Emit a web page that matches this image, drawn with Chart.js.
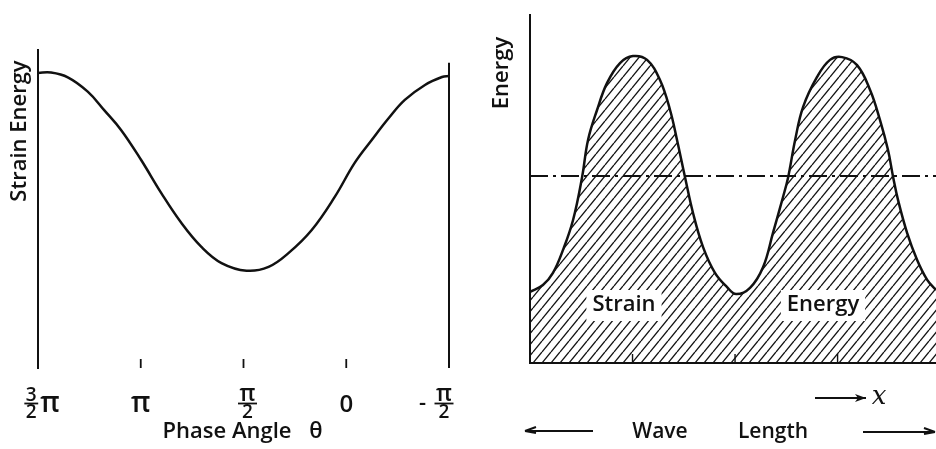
<!DOCTYPE html>
<html>
<head>
<meta charset="utf-8">
<script src="https://cdn.jsdelivr.net/npm/chart.js@4.4.1/dist/chart.umd.min.js"></script>
<style>
  html, body { margin: 0; padding: 0; background: #fff; }
  #wrap { position: relative; width: 936px; height: 449px; overflow: hidden; }
  .panel { position: absolute; top: 0; height: 449px; }
  #left { left: 0; width: 470px; }
  #right { left: 470px; width: 466px; }
</style>
</head>
<body>
<div id="wrap">
  <div class="panel" id="left"><canvas id="phaseChart"></canvas></div>
  <div class="panel" id="right"><canvas id="waveChart"></canvas></div>
</div>
<script>
// left panel: strain energy vs phase angle (theta in units of pi)
const phaseAngle = [1.5, 1.437, 1.355, 1.258, 1.178, 1.095, 0.998, 0.9, 0.802, 0.705, 0.607, 0.485,
  0.378, 0.28, 0.168, 0.056, -0.041, -0.124, -0.207, -0.285, -0.383, -0.466, -0.5];
const strainEnergy = [92.8, 92.9, 91.4, 86.9, 81.1, 74.8, 65.4, 55.0, 45.6, 38.1, 33.0, 30.6,
  31.8, 36.2, 43.4, 53.8, 64.5, 71.7, 78.6, 84.3, 89.0, 91.5, 91.8];
const phaseTicks = [1.5, 1, 0.5, 0, -0.5];
const phaseTickLabels = ["3/2π", "π", "π/2", "0", "-π/2"];
const rightEdgeTop = 96;

// right panel: energy along the wave (x in wave lengths)
const wavePos = [0, 0.063, 0.112, 0.161, 0.21, 0.254, 0.283, 0.327, 0.376, 0.439, 0.502, 0.571,
  0.634, 0.683, 0.717, 0.756, 0.795, 0.844, 0.902, 0.961, 1.005, 1.073, 1.137, 1.185, 1.234,
  1.259, 1.293, 1.332, 1.4, 1.463, 1.522, 1.595, 1.659, 1.707, 1.746, 1.771, 1.795, 1.839,
  1.888, 1.937, 1.98];
const waveEnergy = [20.4, 22.4, 25.9, 32.5, 41.1, 53.4, 64.1, 72.7, 80.5, 86.2, 88.2, 87.1,
  81.3, 72.7, 64.1, 53.4, 43.1, 33.3, 25.9, 21.8, 19.8, 21.6, 27.6, 37.4, 47.7,
  53.4, 64.1, 73.6, 82.2, 87.1, 87.9, 85.6, 78.4, 69.8, 61.2, 53.4, 46.8, 37.4,
  29.6, 23.9, 21.0];
const waveTicks = [0.5, 1, 1.5];
const meanEnergy = 53.7;

const ink = "#111";
const FONT = '"Open Sans", "DejaVu Sans", sans-serif';
const W = "600 ";

function drawPhaseLabel(ctx, lab, x) {
  const m = lab.match(/^(-?)([^/]+)\/(\d)(.*)$/);
  ctx.textBaseline = "alphabetic";
  ctx.textAlign = "center";
  if (!m) {
    ctx.font = W + (lab === "π" ? "28px " : "24px ") + FONT;
    ctx.fillText(lab, x, 412);
    return;
  }
  const [, sign, num, den, tail] = m;
  const numFont = W + (num === "π" ? "23px " : "19px ") + FONT;
  ctx.font = numFont;
  const wn = ctx.measureText(num).width;
  ctx.font = W + "19px " + FONT;
  const wd = ctx.measureText(den).width;
  const fw = Math.max(wn, wd) + 3;
  ctx.font = W + "28px " + FONT;
  const wt = tail ? ctx.measureText(tail).width + 2 : 0;
  let cx = sign ? x - 5 : x + 4 - (fw + wt) / 2 + fw / 2;
  ctx.font = numFont;
  ctx.fillText(num, cx, 401);
  ctx.font = W + "19px " + FONT;
  ctx.fillText(den, cx, 418);
  ctx.lineWidth = 1.8;
  ctx.beginPath();
  ctx.moveTo(cx - fw / 2, 403.5);
  ctx.lineTo(cx + fw / 2, 403.5);
  ctx.stroke();
  if (tail) {
    ctx.font = W + "28px " + FONT;
    ctx.textAlign = "left";
    ctx.fillText(tail, cx + fw / 2 + 2, 412);
  }
  if (sign) {
    ctx.font = W + "22px " + FONT;
    ctx.textAlign = "center";
    ctx.fillText("-", cx - fw / 2 - 12, 410);
  }
}

const phaseDecor = {
  id: "phaseDecor",
  afterDraw(chart) {
    const { ctx, chartArea } = chart;
    const xs = chart.scales.x;
    ctx.save();
    ctx.fillStyle = ink;
    ctx.strokeStyle = ink;
    // short ticks standing on the (invisible) base line
    ctx.lineWidth = 1.8;
    phaseTicks.slice(1, -1).forEach(v => {
      const x = xs.getPixelForValue(v);
      ctx.beginPath();
      ctx.moveTo(x, chartArea.bottom);
      ctx.lineTo(x, chartArea.bottom - 9);
      ctx.stroke();
    });
    phaseTickLabels.forEach((lab, i) => drawPhaseLabel(ctx, lab, xs.getPixelForValue(phaseTicks[i])));

    ctx.font = W + "22px " + FONT;
    ctx.textAlign = "center";
    ctx.textBaseline = "alphabetic";
    ctx.fillText("Phase Angle", 227, 438);
    ctx.fillText("θ", 316, 438);

    ctx.translate(20, 131);
    ctx.rotate(-Math.PI / 2);
    ctx.textBaseline = "middle";
    ctx.fillText("Strain Energy", 0, 0);
    ctx.restore();
  }
};

function arrow(ctx, x1, x2, y, filled) {
  // head at x2
  const dir = x2 > x1 ? 1 : -1;
  ctx.beginPath();
  ctx.moveTo(x1, y);
  ctx.lineTo(x2, y);
  ctx.stroke();
  ctx.beginPath();
  ctx.moveTo(x2, y);
  ctx.lineTo(x2 - dir * 11, y - 4);
  if (filled) {
    ctx.lineTo(x2 - dir * 8, y);
    ctx.lineTo(x2 - dir * 11, y + 4);
    ctx.closePath();
    ctx.fill();
  } else {
    ctx.moveTo(x2, y);
    ctx.lineTo(x2 - dir * 11, y + 2);
    ctx.stroke();
  }
}

const waveDecor = {
  id: "waveDecor",
  afterDatasetsDraw(chart) {
    const { ctx, chartArea } = chart;
    const xs = chart.scales.x;
    ctx.save();
    ctx.strokeStyle = ink;
    ctx.fillStyle = ink;
    ctx.lineWidth = 1.4;
    waveTicks.forEach(v => {
      const x = xs.getPixelForValue(v);
      ctx.beginPath();
      ctx.moveTo(x, chartArea.bottom);
      ctx.lineTo(x, chartArea.bottom - 9);
      ctx.stroke();
    });
    // labels sitting in cleared patches of the hatching
    ctx.font = W + "22px " + FONT;
    ctx.textAlign = "center";
    ctx.textBaseline = "middle";
    [["Strain", 154], ["Energy", 353]].forEach(([t, x]) => {
      const w = ctx.measureText(t).width;
      ctx.fillStyle = "#fff";
      ctx.fillRect(x - w / 2 - 6, 290, w + 12, 31);
      ctx.fillStyle = ink;
      ctx.fillText(t, x, 305);
    });
    ctx.restore();
  },
  afterDraw(chart) {
    const { ctx } = chart;
    ctx.save();
    ctx.strokeStyle = ink;
    ctx.fillStyle = ink;
    ctx.lineWidth = 2;
    ctx.font = W + "21px " + FONT;
    ctx.textAlign = "center";
    ctx.textBaseline = "alphabetic";
    ctx.fillText("Wave", 190, 438);
    ctx.fillText("Length", 303, 438);
    arrow(ctx, 123, 55, 431, false);
    arrow(ctx, 393, 465, 432, false);
    arrow(ctx, 345, 396, 398, true);
    ctx.font = "italic 26px \"DejaVu Serif\", serif";
    ctx.fillText("x", 409, 404);

    ctx.font = W + "22px " + FONT;
    ctx.translate(32, 73);
    ctx.rotate(-Math.PI / 2);
    ctx.textBaseline = "middle";
    ctx.fillText("Energy", 0, 0);
    ctx.restore();
  }
};

function makeHatch(ctx) {
  const w = 9, h = 11;
  const c = document.createElement("canvas");
  c.width = w;
  c.height = h;
  const g = c.getContext("2d");
  g.strokeStyle = ink;
  g.lineWidth = 1.3;
  for (let k = -1; k <= 1; k++) {
    g.beginPath();
    g.moveTo(k * w, h);
    g.lineTo(k * w + w, 0);
    g.stroke();
  }
  return ctx.createPattern(c, "repeat");
}

const bareAxis = {
  ticks: { display: false },
  grid: { display: false, drawTicks: false },
  border: { display: true, width: 2, color: ink }
};

// left chart
new Chart(document.getElementById("phaseChart"), {
  type: "line",
  data: {
    datasets: [
      {
        data: phaseAngle.map((x, i) => ({ x, y: strainEnergy[i] })),
        borderColor: ink,
        borderWidth: 2.5,
        pointRadius: 0,
        tension: 0.4,
        fill: false
      },
      {
        data: [{ x: -0.5, y: 0 }, { x: -0.5, y: rightEdgeTop }],
        borderColor: ink,
        borderWidth: 2,
        pointRadius: 0,
        clip: false
      }
    ]
  },
  options: {
    responsive: true,
    maintainAspectRatio: false,
    animation: false,
    layout: { padding: { left: 38, right: 21, top: 50, bottom: 81 } },
    plugins: { legend: { display: false }, tooltip: { enabled: false } },
    scales: {
      x: { type: "linear", reverse: true, min: -0.5, max: 1.5, display: false },
      y: Object.assign({ min: 0, max: 100 }, bareAxis)
    }
  },
  plugins: [phaseDecor]
});

// right chart
const waveCtx = document.getElementById("waveChart").getContext("2d");
new Chart(waveCtx, {
  type: "line",
  data: {
    datasets: [
      {
        data: wavePos.map((x, i) => ({ x, y: waveEnergy[i] })),
        borderColor: ink,
        borderWidth: 2.5,
        pointRadius: 0,
        tension: 0.4,
        fill: "origin",
        backgroundColor: makeHatch(waveCtx),
        order: 2
      },
      {
        data: [{ x: 0, y: meanEnergy }, { x: 1.98, y: meanEnergy }],
        borderColor: ink,
        borderWidth: 2,
        borderDash: [18, 5, 3, 5],
        pointRadius: 0,
        fill: false,
        order: 1
      }
    ]
  },
  options: {
    responsive: true,
    maintainAspectRatio: false,
    animation: false,
    layout: { padding: { left: 60, right: 0, top: 15, bottom: 86 } },
    plugins: { legend: { display: false }, tooltip: { enabled: false } },
    scales: {
      x: Object.assign({ type: "linear", min: 0, max: 1.98 }, bareAxis),
      y: Object.assign({ min: 0, max: 100 }, bareAxis)
    }
  },
  plugins: [waveDecor]
});
</script>
</body>
</html>
